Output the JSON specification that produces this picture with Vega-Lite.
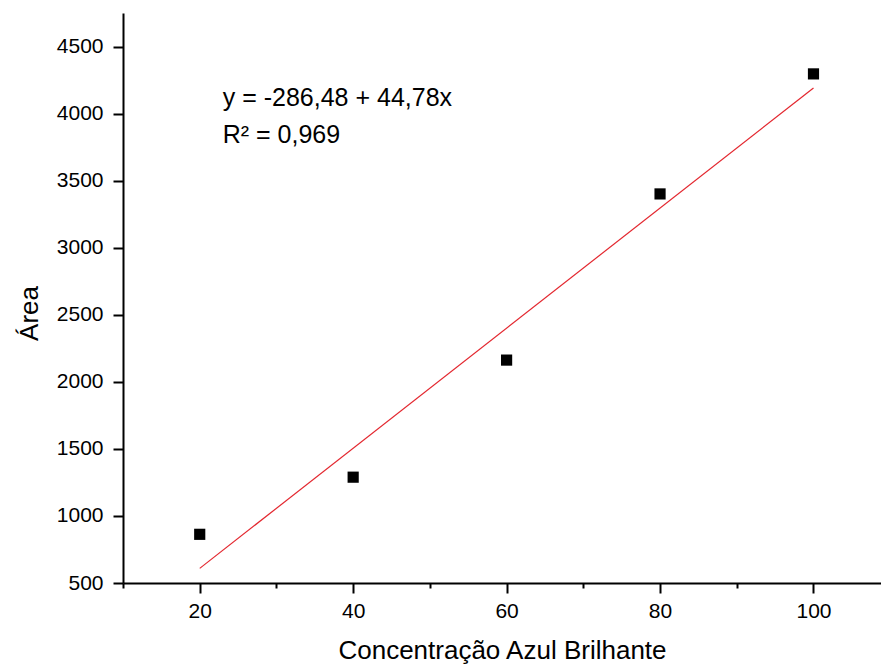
{
  "$schema": "https://vega.github.io/schema/vega-lite/v6.json",
  "autosize": "none",
  "width": 758,
  "height": 570,
  "padding": {"left": 123, "top": 13, "right": 0, "bottom": 85},
  "background": "white",
  "config": {"view": {"stroke": null}, "font": "Liberation Sans"},
  "datasets": {
    "pts": [
      {"conc": 20, "area": 863},
      {"conc": 40, "area": 1289},
      {"conc": 60, "area": 2162},
      {"conc": 80, "area": 3401},
      {"conc": 100, "area": 4296}
    ],
    "fit": [
      {"conc": 20, "area": 609.1},
      {"conc": 100, "area": 4191.5}
    ],
    "notes": [
      {"conc": 23, "area": 4057, "label": "y = -286,48 + 44,78x"},
      {"conc": 23, "area": 3781, "label": "R² = 0,969"}
    ]
  },
  "layer": [
    {
      "data": {"name": "fit"},
      "mark": {"type": "line", "color": "#e3262e", "strokeWidth": 1.2},
      "encoding": {
        "x": {"field": "conc", "type": "quantitative", "scale": {"domain": [10, 108.8], "nice": false, "zero": false}},
        "y": {"field": "area", "type": "quantitative", "scale": {"domain": [500, 4750], "nice": false, "zero": false}}
      }
    },
    {
      "data": {"name": "pts"},
      "mark": {"type": "point", "shape": "square", "filled": true, "color": "black", "size": 125, "opacity": 1},
      "encoding": {
        "x": {
          "field": "conc", "type": "quantitative",
          "scale": {"domain": [10, 108.8], "nice": false, "zero": false},
          "axis": {
            "title": "Concentração Azul Brilhante",
            "values": [10, 20, 30, 40, 50, 60, 70, 80, 90, 100],
            "labelExpr": "datum.value % 20 === 0 ? datum.label : ''",
            "tickSize": {"condition": {"test": "datum.value % 20 === 0", "value": 10}, "value": 5},
            "tickWidth": 2, "tickColor": "black",
            "domainWidth": 2, "domainColor": "black",
            "grid": false,
            "labelFontSize": 21, "labelColor": "black", "labelPadding": 7,
            "labelFlush": false, "labelOverlap": false,
            "titleFontSize": 26, "titleFontWeight": "normal", "titleColor": "black",
            "titleY": 75, "titleBaseline": "alphabetic"
          }
        },
        "y": {
          "field": "area", "type": "quantitative",
          "scale": {"domain": [500, 4750], "nice": false, "zero": false},
          "axis": {
            "title": "Área",
            "values": [500, 750, 1000, 1250, 1500, 1750, 2000, 2250, 2500, 2750, 3000, 3250, 3500, 3750, 4000, 4250, 4500, 4750],
            "labelExpr": "datum.value % 500 === 0 ? datum.label : ''",
            "format": "d",
            "tickSize": {"condition": {"test": "datum.value % 500 === 0", "value": 10}, "value": 5},
            "tickWidth": 2, "tickColor": "black",
            "domainWidth": 2, "domainColor": "black",
            "grid": false,
            "labelFontSize": 21, "labelColor": "black", "labelPadding": 10,
            "labelFlush": false, "labelOverlap": false,
            "titleFontSize": 26, "titleFontWeight": "normal", "titleColor": "black",
            "titleX": -86, "titleY": 300, "titleBaseline": "alphabetic", "titleAngle": 270
          }
        }
      }
    },
    {
      "data": {"name": "notes"},
      "mark": {"type": "text", "align": "left", "baseline": "alphabetic", "fontSize": 25, "color": "black"},
      "encoding": {
        "x": {"field": "conc", "type": "quantitative"},
        "y": {"field": "area", "type": "quantitative"},
        "text": {"field": "label"}
      }
    }
  ]
}
